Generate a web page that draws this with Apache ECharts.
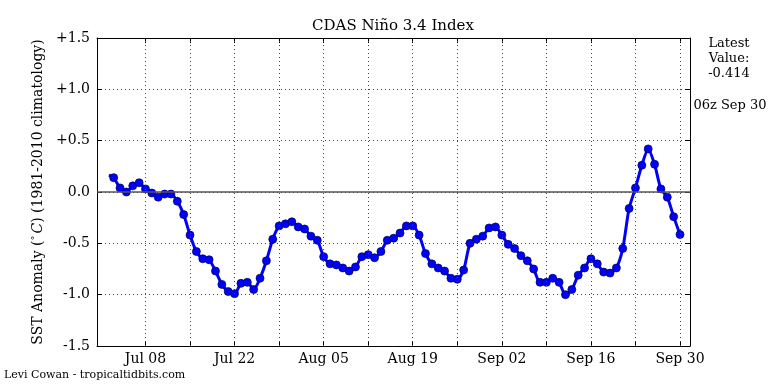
<!DOCTYPE html>
<html>
<head>
<meta charset="utf-8">
<script src="https://cdn.jsdelivr.net/npm/echarts@6/dist/echarts.min.js"></script>
<style>
html,body{margin:0;padding:0;background:#fff;}
#chart{width:768px;height:384px;}
</style>
</head>
<body>
<div id="chart"></div>
<script>
// Days are counted from Jul 1 00z (Jul 1 = 0)
const firstDay = 2; // Jul 03 00z, first daily marker
const anomaly = [
  0.14, 0.04, 0.00, 0.06, 0.09, 0.03, -0.01, -0.05, -0.02, -0.02,
  -0.09, -0.22, -0.42, -0.58, -0.65, -0.66, -0.77, -0.90, -0.97, -0.99,
  -0.89, -0.88, -0.95, -0.84, -0.67, -0.46, -0.33, -0.31, -0.29,
  -0.34, -0.36, -0.43, -0.47, -0.63, -0.70, -0.71, -0.74, -0.77, -0.73,
  -0.63, -0.61, -0.64, -0.58, -0.47, -0.45, -0.40, -0.33, -0.33, -0.42,
  -0.60, -0.70, -0.74, -0.77, -0.84, -0.85, -0.76, -0.50, -0.46, -0.43,
  -0.35, -0.34, -0.42, -0.51, -0.55, -0.62, -0.67, -0.75, -0.88, -0.88,
  -0.84, -0.88, -1.00, -0.95, -0.81, -0.74, -0.65, -0.70, -0.78, -0.79,
  -0.74, -0.55, -0.16, 0.04, 0.26, 0.42, 0.27, 0.03, -0.05, -0.24, -0.414
];
const leadDay = 1.25;      // line begins before first marker (Jul 02 06z)
const leadValue = 0.165;
const xTickDays = [7, 14, 21, 28, 35, 42, 49, 56, 63, 70, 77, 84, 91];
const xLabelDays = [7, 21, 35, 49, 63, 77, 91];
const xLabels = ['Jul 08', 'Jul 22', 'Aug 05', 'Aug 19', 'Sep 02', 'Sep 16', 'Sep 30'];
const yTickValues = [1.5, 1.0, 0.5, 0.0, -0.5, -1.0, -1.5];
const yTickLabels = ['+1.5', '+1.0', '+0.5', '0.0', '-0.5', '-1.0', '-1.5'];
const titleText = 'CDAS Niño 3.4 Index';
const latestStamp = '06z Sep 30';
const creditText = 'Levi Cowan - tropicaltidbits.com';

const FONT = '"DejaVu Serif", serif';
const xMin = -0.62, xMax = 92.57;

const seriesData = [{value: [leadDay, leadValue], symbol: 'none'}]
  .concat(anomaly.map((v, i) => [firstDay + i, v]));

function xFmt(v) {
  const r = Math.round(v);
  if (Math.abs(v - r) > 1e-6) return '';
  const k = xLabelDays.indexOf(r);
  return k >= 0 ? xLabels[k] : '';
}
function yFmt(v) {
  for (let i = 0; i < yTickValues.length; i++) {
    if (Math.abs(yTickValues[i] - v) < 1e-6) return yTickLabels[i];
  }
  return '';
}

const dottedStyle = {color: '#444', width: 1, type: [1, 3]};
const tick = {show: true, inside: true, length: 5, lineStyle: {color: '#000', width: 1}};
const axLine = {show: true, onZero: false, lineStyle: {color: '#000', width: 1}};

const chart = echarts.init(document.getElementById('chart'), null, {renderer: 'canvas'});
chart.setOption({
  animation: false,
  backgroundColor: '#fff',
  grid: {left: 97, right: 78, top: 38, bottom: 38, containLabel: false},
  xAxis: [{
    type: 'value', min: xMin, max: xMax,
    axisLine: axLine,
    axisTick: Object.assign({customValues: xTickDays}, tick),
    splitLine: {show: false},
    axisLabel: {customValues: xLabelDays, formatter: xFmt, color: '#000', fontFamily: FONT, fontSize: 14, margin: 6}
  }, {
    type: 'value', position: 'top', min: xMin, max: xMax,
    axisLine: axLine,
    axisTick: Object.assign({customValues: xTickDays}, tick),
    splitLine: {show: false}, axisLabel: {show: false}
  }],
  yAxis: [{
    type: 'value', min: -1.5, max: 1.5, interval: 0.5,
    axisLine: axLine, axisTick: tick, splitLine: {show: true, lineStyle: dottedStyle},
    axisLabel: {formatter: yFmt, color: '#000', fontFamily: FONT, fontSize: 14, margin: 7},
    name: '{n|SST Anomaly (}{s|°}{i|C}{n|) (1981-2010 climatology)}',
    nameLocation: 'middle', nameRotate: 90, nameGap: 50,
    nameTextStyle: {
      color: '#000', fontFamily: FONT, fontSize: 14,
      rich: {
        n: {fontFamily: FONT, fontSize: 14, color: '#000'},
        s: {fontFamily: FONT, fontSize: 10, color: '#000', verticalAlign: 'top', padding: [0, 2, 6, 0]},
        i: {fontFamily: FONT, fontSize: 14, fontStyle: 'italic', color: '#000'}
      }
    }
  }, {
    type: 'value', position: 'right', min: -1.5, max: 1.5, interval: 0.5,
    axisLine: axLine, axisTick: tick, splitLine: {show: false}, axisLabel: {show: false}
  }],
  series: [{
    type: 'line',
    data: [],
    silent: true,
    z: 1,
    markLine: {
      silent: true, symbol: 'none', animation: false,
      label: {show: false},
      lineStyle: dottedStyle,
      data: xTickDays.map(d => ({xAxis: d}))
    }
  }, {
    type: 'line',
    data: [],
    silent: true,
    z: 2,
    markLine: {
      silent: true, symbol: 'none', animation: false,
      label: {show: false},
      lineStyle: {color: '#555', width: 1.5, type: 'solid'},
      data: [{yAxis: 0}]
    }
  }, {
    type: 'line',
    data: seriesData,
    smooth: 0.25,
    z: 3,
    lineStyle: {color: '#0000ff', width: 3},
    symbol: 'circle', symbolSize: 8, showAllSymbol: true,
    itemStyle: {color: '#0000ff', borderColor: '#00004d', borderWidth: 0.7}
  }],
  graphic: [
    {type: 'text', x: 393, y: 26, style: {text: titleText, font: '15px ' + FONT, fill: '#000', textAlign: 'center', textVerticalAlign: 'middle'}},
    {type: 'text', x: 729, y: 44, style: {text: 'Latest', font: '13px ' + FONT, fill: '#000', textAlign: 'center', textVerticalAlign: 'middle'}},
    {type: 'text', x: 729, y: 59, style: {text: 'Value:', font: '13px ' + FONT, fill: '#000', textAlign: 'center', textVerticalAlign: 'middle'}},
    {type: 'text', x: 729, y: 74, style: {text: anomaly[anomaly.length - 1].toFixed(3), font: '13px ' + FONT, fill: '#000', textAlign: 'center', textVerticalAlign: 'middle'}},
    {type: 'text', x: 730, y: 106, style: {text: latestStamp, font: '13px ' + FONT, fill: '#000', textAlign: 'center', textVerticalAlign: 'middle'}},
    {type: 'text', x: 4, y: 375, style: {text: creditText, font: '11px ' + FONT, fill: '#000', textAlign: 'left', textVerticalAlign: 'middle'}}
  ]
});
</script>
</body>
</html>
